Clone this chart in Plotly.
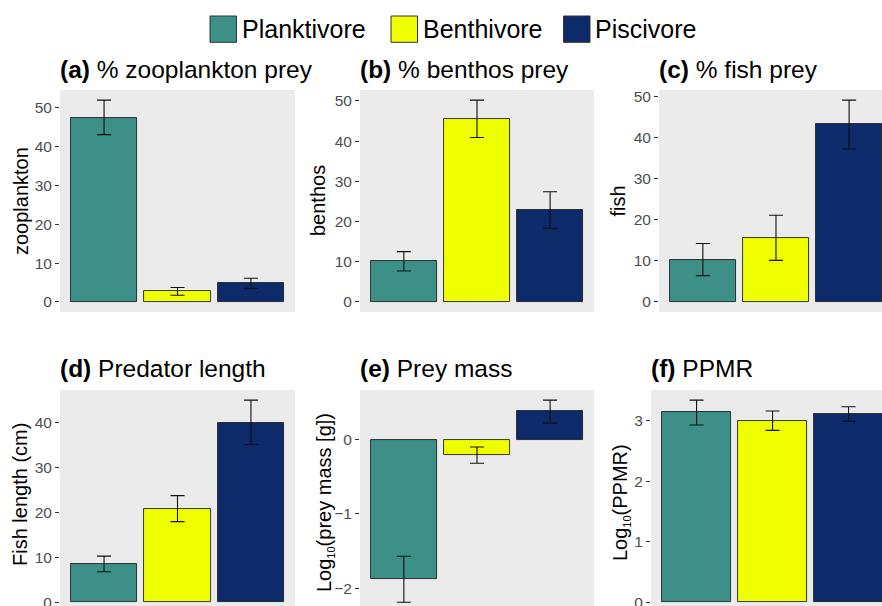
import plotly.graph_objects as go

# ---------------- data ----------------
groups = ["Planktivore", "Benthivore", "Piscivore"]
colors = ["#3C9087", "#F0FF00", "#0D2A6B"]
xpos = [1, 2, 3]

zoo_mean = [47.5, 2.7, 4.8]
zoo_lo = [43.1, 1.7, 3.5]
zoo_hi = [52.0, 3.7, 6.1]

benthos_mean = [10.1, 45.6, 22.9]
benthos_lo = [7.7, 40.9, 18.3]
benthos_hi = [12.5, 50.2, 27.4]

fish_mean = [10.3, 15.6, 43.2]
fish_lo = [6.4, 10.1, 37.2]
fish_hi = [14.2, 21.1, 49.1]

length_mean = [8.5, 20.9, 40.1]
length_lo = [6.8, 18.0, 35.2]
length_hi = [10.3, 23.8, 45.1]

preymass_mean = [-1.87, -0.21, 0.38]
preymass_lo = [-2.19, -0.32, 0.22]
preymass_hi = [-1.57, -0.10, 0.53]

ppmr_mean = [3.14, 3.00, 3.11]
ppmr_lo = [2.93, 2.84, 2.99]
ppmr_hi = [3.34, 3.16, 3.23]

titles = ["<b>(a)</b> % zooplankton prey", "<b>(b)</b> % benthos prey", "<b>(c)</b> % fish prey",
          "<b>(d)</b> Predator length", "<b>(e)</b> Prey mass", "<b>(f)</b> PPMR"]
SUB10 = '<sub><span style="font-size:11px">10</span></sub>'
ytitles = ["zooplankton", "benthos", "fish", "Fish length (cm)",
           "Log" + SUB10 + "(prey mass [g])", "Log" + SUB10 + "(PPMR)"]
dticks = [10, 10, 10, 10, 1, 1]

# ---------------- layout geometry (pixels) ----------------
W, H = 882, 606
FONT = "Liberation Sans, Arial, sans-serif"
# (left, right, top, bottom_full, visible_bottom, x_max)
boxes = [
    (60, 295, 90, 312, 312, 3.6),
    (360, 594, 90, 312, 312, 3.6),
    (659, 882, 90, 312, 312, 3.45),
    (60, 295, 390, 612.4, 606, 3.6),
    (360, 594, 390, 612.4, 606, 3.6),
    (651, 882, 390, 612.4, 606, 3.44),
]
ytitle_x = [21, 318, 617.5, 20, 325, 621]
ytitle_y = [201, 201, 201, 495, 503, 503]

series = [
    (zoo_mean, zoo_lo, zoo_hi),
    (benthos_mean, benthos_lo, benthos_hi),
    (fish_mean, fish_lo, fish_hi),
    (length_mean, length_lo, length_hi),
    (preymass_mean, preymass_lo, preymass_hi),
    (ppmr_mean, ppmr_lo, ppmr_hi),
]

def px(x):
    return x / W

def py(y):
    return 1 - y / H

fig = go.Figure()
annotations = []
shapes = []

for i, (mean, lo, hi) in enumerate(series):
    k = "" if i == 0 else str(i + 1)
    left, right, top, bot_full, bot_vis, xmax = boxes[i]
    fig.add_trace(go.Bar(
        x=xpos, y=mean, width=0.9,
        marker=dict(color=colors, line=dict(color="#222222", width=0.9)),
        error_y=dict(type="data", symmetric=False,
                     array=[h - m for h, m in zip(hi, mean)],
                     arrayminus=[m - l for m, l in zip(mean, lo)],
                     color="#111111", thickness=1.1, width=7),
        xaxis="x" + k, yaxis="y" + k, showlegend=False,
        hoverinfo="skip",
    ))
    dmin = min(0, min(lo))
    dmax = max(0, max(hi))
    pad = 0.05 * (dmax - dmin)
    r0, r1 = dmin - pad, dmax + pad
    # cropped bottom
    frac = (bot_vis - top) / (bot_full - top)
    r0 = r1 - (r1 - r0) * frac
    fig.layout["xaxis" + k] = dict(
        domain=[px(left), px(right)], range=[0.4, xmax], anchor="y" + k,
        showticklabels=False, ticks="", showgrid=False, zeroline=False,
        showline=False, fixedrange=True, automargin=False)
    fig.layout["yaxis" + k] = dict(
        domain=[py(bot_vis), py(top)], range=[r0, r1], anchor="x" + k,
        dtick=dticks[i], tick0=0, ticks="outside", ticklen=4, tickwidth=1,
        tickcolor="#333333", tickfont=dict(size=15.5, color="#4D4D4D", family=FONT),
        ticklabeloverflow="allow", automargin=False,
        showgrid=False, zeroline=False, showline=False, fixedrange=True)
    title_y = 69.5 if top < 200 else 368.5
    annotations.append(dict(
        text=titles[i], xref="paper", yref="paper", x=px(left - 2), y=py(title_y),
        xanchor="left", yanchor="middle", showarrow=False,
        font=dict(size=24.5, color="black", family=FONT)))
    annotations.append(dict(
        text=ytitles[i], xref="paper", yref="paper", x=px(ytitle_x[i]),
        y=py(ytitle_y[i]), xanchor="center", yanchor="middle",
        textangle=-90, showarrow=False,
        font=dict(size=20, color="black", family=FONT)))

# legend (manual)
key_left = [210, 391, 563.5]
for g, c, kl in zip(groups, colors, key_left):
    shapes.append(dict(type="rect", xref="paper", yref="paper",
                       x0=px(kl), x1=px(kl + 26.5), y0=py(42.3), y1=py(16),
                       fillcolor=c, line=dict(color="#333333", width=1)))
    annotations.append(dict(
        text=g, xref="paper", yref="paper", x=px(kl + 29.5), y=py(29),
        xanchor="left", yanchor="middle", showarrow=False,
        font=dict(size=25, color="black", family=FONT)))

fig.update_layout(
    width=W, height=H, margin=dict(l=0, r=0, t=0, b=0, autoexpand=False),
    paper_bgcolor="white", plot_bgcolor="#EBEBEB",
    annotations=annotations, shapes=shapes, bargap=0,
    font=dict(family=FONT),
)

fig.write_html(
    "out.html",
    config={"displayModeBar": False},
    post_script="document.body.style.margin='0px';document.body.style.overflow='hidden';",
)
